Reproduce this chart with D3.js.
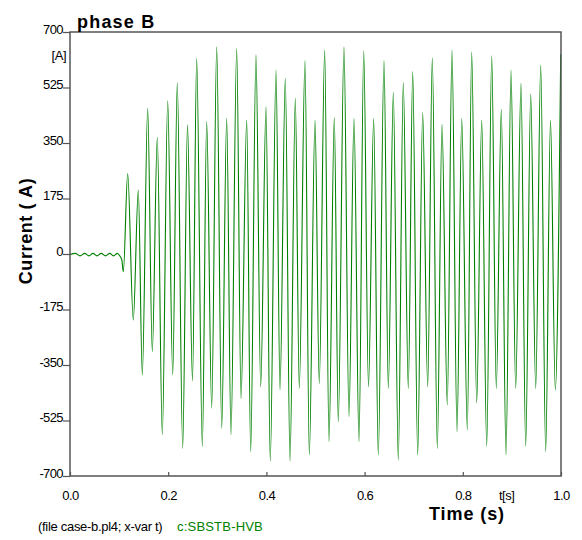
<!DOCTYPE html>
<html>
<head>
<meta charset="utf-8">
<script src="https://cdn.jsdelivr.net/npm/d3@7"></script>
<style>
  body { margin: 0; background: #fff; }
  text { font-family: "Liberation Sans", Arial, sans-serif; }
</style>
</head>
<body>
<svg class="chart" width="582" height="540"></svg>
<script>
// turning points of the phase B current (time in s, current in A)
const sampleTimes = [
  0.0000, 0.0108, 0.0204, 0.0299, 0.0387, 0.0468, 0.0550, 0.0637, 0.0723, 0.0809,
  0.0886, 0.0963, 0.1000, 0.1055, 0.1086,
  0.1175, 0.1289, 0.1391, 0.1473, 0.1582, 0.1676, 0.1778, 0.1880, 0.1990, 0.2092,
  0.2185, 0.2295, 0.2393, 0.2495, 0.2580, 0.2695, 0.2784, 0.2886, 0.2988, 0.3090,
  0.3191, 0.3279, 0.3395, 0.3483, 0.3599, 0.3680, 0.3788, 0.3884, 0.3992, 0.4079,
  0.4196, 0.4277, 0.4385, 0.4481, 0.4589, 0.4670, 0.4786, 0.4874, 0.4990, 0.5077,
  0.5187, 0.5275, 0.5383, 0.5464, 0.5580, 0.5682, 0.5784, 0.5886, 0.5982, 0.6079,
  0.6185, 0.6279, 0.6395, 0.6483, 0.6585, 0.6686, 0.6788, 0.6890, 0.6980, 0.7081,
  0.7183, 0.7285, 0.7379, 0.7481, 0.7576, 0.7684, 0.7780, 0.7882, 0.7978, 0.8092,
  0.8181, 0.8283, 0.8385, 0.8487, 0.8589, 0.8682, 0.8784, 0.8880, 0.8982, 0.9077,
  0.9185, 0.9281, 0.9383, 0.9485, 0.9587, 0.9688, 0.9786, 0.9884, 0.9994,
];
const sampleCurrents = [
  -2, 2, -6, 2, -6, 2, -6, 2, -6, 2,
  -6, 2, -3, -18, -56,
  254, -208, 202, -381, 459, -308, 368, -570, 483, -381,
  540, -613, 407, -400, 617, -607, 418, -486, 653, -550,
  428, -570, 648, -456, 422, -623, 628, -419, 464, -653,
  580, -429, 554, -653, 491, -424, 610, -634, 422, -408,
  643, -592, 430, -529, 653, -513, 427, -592, 641, -419,
  427, -634, 610, -424, 510, -650, 541, -424, 575, -634,
  446, -419, 619, -613, 409, -476, 643, -561, 427, -555,
  637, -470, 422, -607, 625, -424, 456, -634, 580, -424,
  538, -607, 505, -424, 596, -623, 422, -429, 630,
];

const yTicks = [700, 525, 350, 175, 0, -175, -350, -525, -700];
const xTicks = [0, 0.2, 0.4, 0.6, 0.8, 1.0];
const xTickLabels = ['0.0', '0.2', '0.4', '0.6', '0.8', '1.0'];

const plot = { left: 70, right: 561, top: 32, bottom: 476 };
const lineColor = '#008000';
const frameColor = '#555';

const drawLabels = (svg) => {
  svg.append('text')
    .attr('x', 77).attr('y', 27.5)
    .style('font-size', '18px').style('font-weight', 'bold').style('letter-spacing', '1.2px')
    .text('phase B');

  svg.append('text')
    .attr('x', 66).attr('y', 60)
    .attr('text-anchor', 'end')
    .style('font-size', '13px').style('letter-spacing', '-0.5px')
    .text('[A]');

  svg.append('text')
    .attr('transform', 'translate(32, 231) rotate(-90)')
    .attr('text-anchor', 'middle')
    .style('font-size', '18px').style('font-weight', 'bold').style('letter-spacing', '0.6px')
    .text('Current ( A)');

  svg.append('text')
    .attr('x', 499).attr('y', 500)
    .style('font-size', '13px').style('letter-spacing', '-0.5px')
    .text('t[s]');

  svg.append('text')
    .attr('x', 467).attr('y', 520)
    .attr('text-anchor', 'middle')
    .style('font-size', '18px').style('font-weight', 'bold').style('letter-spacing', '0.9px')
    .text('Time (s)');

  svg.append('text')
    .attr('x', 38).attr('y', 531)
    .style('font-size', '13px').style('letter-spacing', '-0.3px')
    .text('(file case-b.pl4; x-var t)');

  svg.append('text')
    .attr('x', 177).attr('y', 531)
    .attr('fill', lineColor)
    .style('font-size', '13px').style('letter-spacing', '0.2px')
    .text('c:SBSTB-HVB');
};

const startApp = () => {
  const svg = d3.select('.chart');
  const xScale = d3.scaleLinear().domain([0, 1]).range([plot.left, plot.right]);
  const yScale = d3.scaleLinear().domain([-700, 700]).range([plot.bottom, plot.top]);

  const yAxis = d3.axisLeft(yScale)
    .tickValues(yTicks)
    .tickFormat(d => String(d))
    .tickSizeInner(7).tickSizeOuter(0).tickPadding(0);
  const xAxis = d3.axisBottom(xScale)
    .tickValues(xTicks)
    .tickFormat((d, i) => xTickLabels[i])
    .tickSizeInner(-4).tickSizeOuter(0).tickPadding(15);

  const yG = svg.append('g').attr('transform', `translate(${plot.left}, 0)`).call(yAxis);
  yG.selectAll('text').attr('dy', '0').attr('x', -7).attr('y', 1)
    .style('font-size', '13px').style('letter-spacing', '-0.6px').attr('fill', '#000');

  const xG = svg.append('g').attr('transform', `translate(0, ${plot.bottom})`).call(xAxis);
  xG.selectAll('text')
    .style('font-size', '13px').style('letter-spacing', '-0.6px').attr('fill', '#000');

  [yG, xG].forEach((g) => {
    g.select('.domain').remove();
    g.selectAll('line').attr('stroke', frameColor).attr('stroke-width', 1.2);
    g.attr('font-family', null).attr('font-size', null);
  });

  const data = sampleTimes.map((t, i) => ({ t, amps: sampleCurrents[i] }));
  const line = d3.line()
    .x(({ t }) => xScale(t))
    .y(({ amps }) => yScale(amps))
    .curve(d3.curveMonotoneX);

  svg.append('path')
    .datum(data)
    .attr('fill', 'none')
    .attr('stroke', lineColor)
    .attr('stroke-width', 1.1)
    .attr('d', line);

  svg.append('rect')
    .attr('x', plot.left).attr('y', plot.top)
    .attr('width', plot.right - plot.left).attr('height', plot.bottom - plot.top)
    .attr('fill', 'none')
    .attr('stroke', frameColor)
    .attr('stroke-width', 1.5);

  drawLabels(svg);
};

window.onload = startApp;
</script>
</body>
</html>
